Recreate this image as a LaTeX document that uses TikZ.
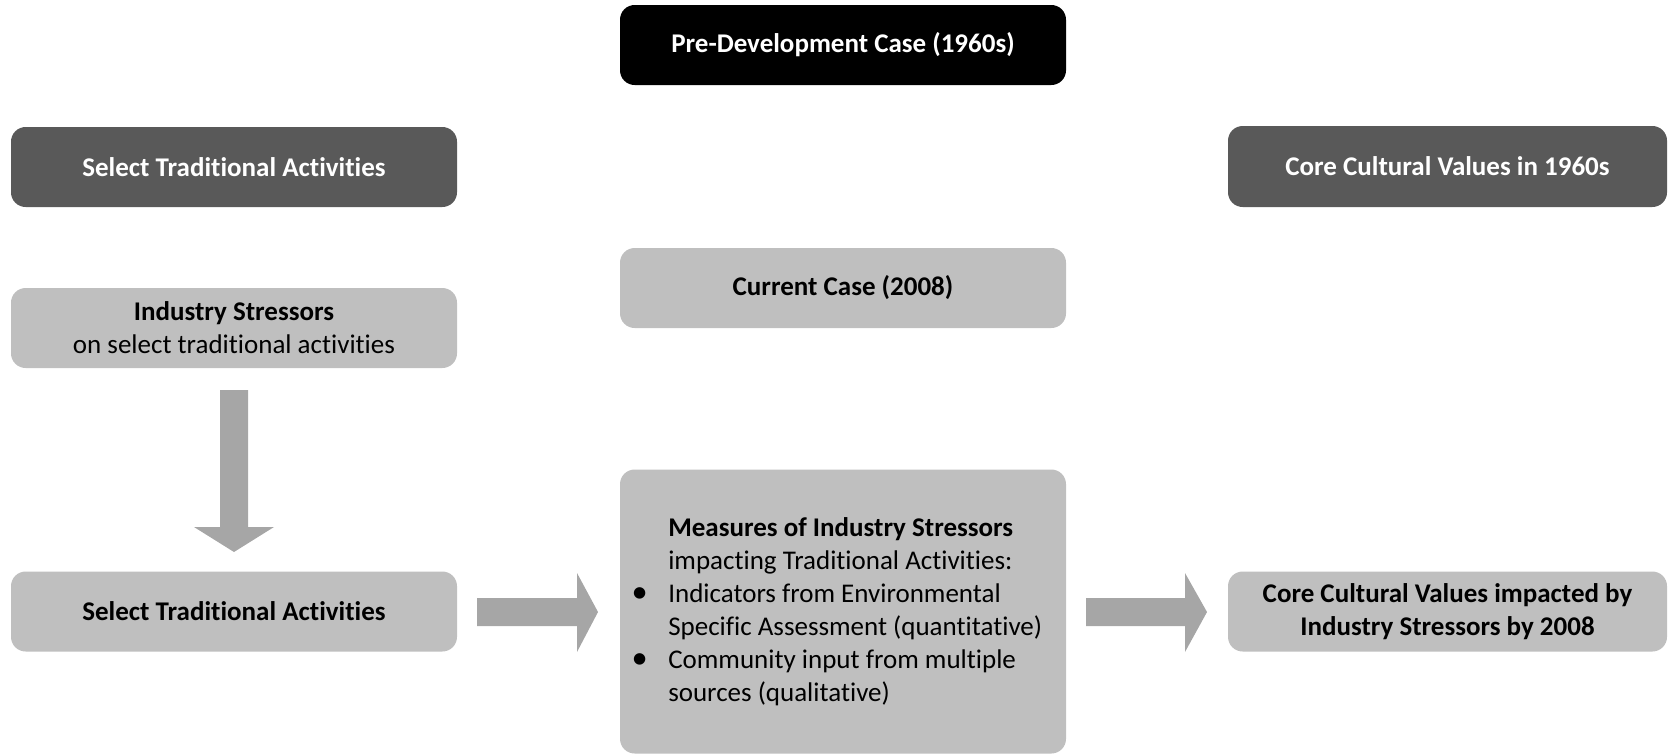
\documentclass[tikz,border=0pt]{standalone}
\usepackage{fontspec}
\setmainfont{Carlito}[Ligatures=NoCommon]
\definecolor{boxblack}{HTML}{000000}
\definecolor{boxdark}{HTML}{595959}
\definecolor{boxlight}{HTML}{BFBFBF}
\definecolor{arrowgray}{HTML}{A6A6A6}
\newcommand{\bul}{\llap{\makebox[27.5pt][l]{\scalebox{1.2}{\textbullet}}}}
\tikzset{
  box/.style={rounded corners=11pt, inner sep=0pt, align=center,
    minimum width=334.5pt, minimum height=60pt,
    font=\fontsize{20.25}{24.75}\selectfont},
  blackbox/.style={box, fill=boxblack, text=white, font=\fontsize{20.25}{24.75}\selectfont\bfseries},
  darkbox/.style={box, fill=boxdark, text=white, font=\fontsize{20.25}{24.75}\selectfont\bfseries},
  lightbox/.style={box, fill=boxlight, text=black},
  blockarrow/.style={fill=arrowgray, draw=none}
}
\begin{document}
\begin{tikzpicture}[x=0.75pt, y=-0.75pt]
\useasboundingbox (0,0) rectangle (1669,754);
\clip (0,0) rectangle (1669,754);
% top row
\node[blackbox] (pre) at (843,45) {Pre-Development Case (1960s)};
\node[darkbox] (selD) at (234,167) {Select Traditional Activities};
\node[darkbox, minimum width=329.25pt, minimum height=60.75pt] (core60) at (1447.5,166.5) {Core Cultural Values in 1960s};
% second row
\node[lightbox] (cur) at (843,288) {\textbf{Current Case (2008)}};
\node[lightbox] (ind) at (234,328) {\textbf{Industry Stressors}\\on select traditional activities};
% bottom row
\node[lightbox] (selL) at (234,611.5) {\textbf{Select Traditional Activities}};
\node[lightbox, minimum height=213pt] (meas) at (843,611.5) {};
\node[anchor=west, inner sep=0pt, align=left, font=\fontsize{20.25}{24.75}\selectfont] (meastext) at (668,611.5)
  {\textbf{Measures of Industry Stressors}\\
   impacting Traditional Activities:\\
   \bul Indicators from Environmental\\
   Specific Assessment (quantitative)\\
   \bul Community input from multiple\\
   sources (qualitative)};
\node[lightbox, minimum width=329.25pt] (coreI) at (1447.5,611.5) {\textbf{Core Cultural Values impacted by}\\\textbf{Industry Stressors by 2008}};
% block arrows
\fill[blockarrow] (220,390) -- (248,390) -- (248,527) -- (274,527) -- (234,552) -- (194,527) -- (220,527) -- cycle;
\fill[blockarrow] (477,598) -- (577,598) -- (577,573) -- (598,612) -- (577,652) -- (577,626) -- (477,626) -- cycle;
\fill[blockarrow] (1086,598) -- (1185,598) -- (1185,573) -- (1207,612) -- (1185,652) -- (1185,626) -- (1086,626) -- cycle;
\end{tikzpicture}
\end{document}
